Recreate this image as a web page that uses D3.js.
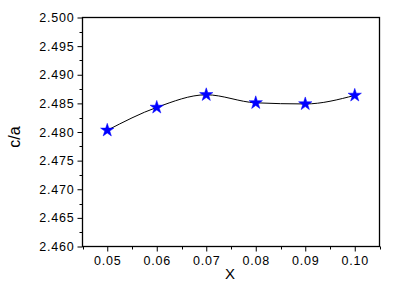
<!DOCTYPE html>
<html><head><meta charset="utf-8">
<script src="https://cdn.jsdelivr.net/npm/d3@7"></script>
<style>body{margin:0;background:#fff}svg{display:block}</style>
</head><body>
<script>
const xValues = [0.05, 0.06, 0.07, 0.08, 0.09, 0.10];
const caValues = [2.4803, 2.4843, 2.4865, 2.4851, 2.4849, 2.4864];
const xTicks = [0.05, 0.06, 0.07, 0.08, 0.09, 0.10];
const yTicks = [2.460, 2.465, 2.470, 2.475, 2.480, 2.485, 2.490, 2.495, 2.500];

const W = 394, H = 289;
const m = {l: 82.5, r: 379.5, t: 17.5, b: 246.5};
const svg = d3.select("body").append("svg").attr("width", W).attr("height", H);
const x = d3.scaleLinear().domain([0.045, 0.105]).range([m.l, m.r]);
const y = d3.scaleLinear().domain([2.46, 2.50]).range([m.b, m.t]);

const font = "Arial, 'Liberation Sans', sans-serif";
// frame
svg.append("rect").attr("x", m.l).attr("y", m.t).attr("width", m.r - m.l).attr("height", m.b - m.t)
  .attr("fill", "none").attr("stroke", "#000").attr("stroke-width", 1.3);

// y axis
const yMinor = d3.range(0, 8).map(i => 2.4625 + i * 0.005);
svg.append("g").selectAll("line.ymin").data(yMinor).join("line")
  .attr("x1", m.l - 3).attr("x2", m.l).attr("y1", d => Math.round(y(d)) + 0.5).attr("y2", d => Math.round(y(d)) + 0.5)
  .attr("stroke", "#000");
const yAxis = d3.axisLeft(y).tickValues(yTicks).tickFormat(d3.format(".3f")).tickSize(5).tickPadding(3);
const gy = svg.append("g").attr("transform", `translate(${m.l},0)`).call(yAxis);
gy.select(".domain").remove();
gy.selectAll("text").attr("font-family", font).attr("font-size", 12.5).attr("letter-spacing", "0.8px").attr("fill", "#000");

// x axis
const xMinor = d3.range(0, 7).map(i => 0.045 + i * 0.01);
svg.append("g").selectAll("line.xmin").data(xMinor).join("line")
  .attr("y1", m.b).attr("y2", m.b + 3).attr("x1", d => Math.round(x(d)) + 0.5).attr("x2", d => Math.round(x(d)) + 0.5)
  .attr("stroke", "#000");
const xAxis = d3.axisBottom(x).tickValues(xTicks).tickFormat(d3.format(".2f")).tickSize(5).tickPadding(5);
const gx = svg.append("g").attr("transform", `translate(0,${m.b})`).call(xAxis);
gx.select(".domain").remove();
gx.selectAll("text").attr("font-family", font).attr("font-size", 12.5).attr("letter-spacing", "0.8px").attr("fill", "#000");

// labels
svg.append("text").attr("x", 230).attr("y", 278.5).attr("text-anchor", "middle")
  .attr("font-family", font).attr("font-size", 15).text("X");
svg.append("text").attr("transform", "translate(20,137) rotate(-90)").attr("text-anchor", "middle")
  .attr("font-family", font).attr("font-size", 16).text("c/a");

// line
const data = xValues.map((v, i) => [v, caValues[i]]);
svg.append("path").datum(data)
  .attr("d", d3.line().x(d => x(d[0])).y(d => y(d[1])).curve(d3.curveMonotoneX))
  .attr("fill", "none").attr("stroke", "#000").attr("stroke-width", 1);

// stars
const star = d3.symbol().type(d3.symbolStar).size(55);
svg.append("g").selectAll("path").data(data).join("path")
  .attr("d", star).attr("transform", d => `translate(${x(d[0])},${y(d[1])})`)
  .attr("fill", "#0000ff").attr("stroke", "#0000ff").attr("stroke-width", 0.5);
</script>
</body></html>
